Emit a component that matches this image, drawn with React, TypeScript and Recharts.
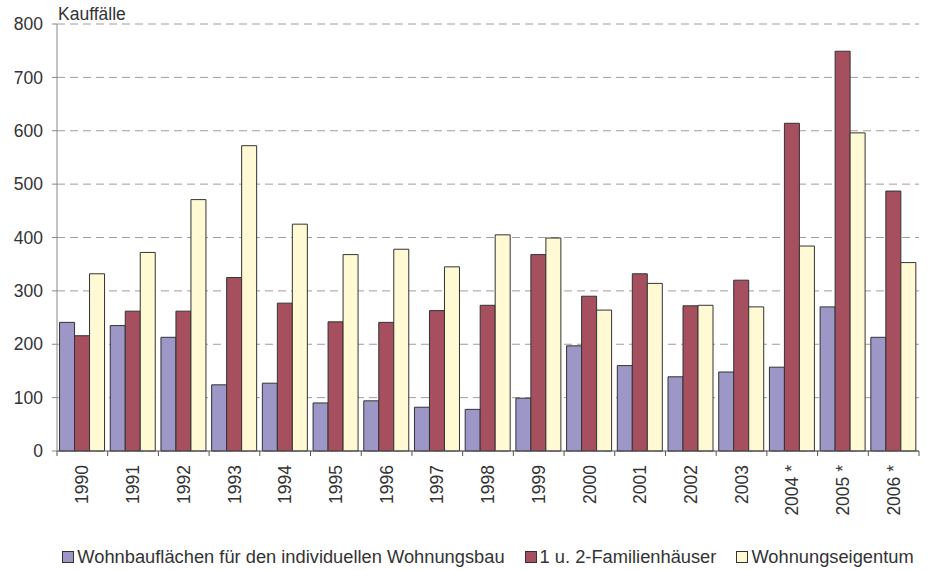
import React from 'react';
import { BarChart, Bar, XAxis, YAxis, CartesianGrid, Legend } from 'recharts';

const years = ['1990', '1991', '1992', '1993', '1994', '1995', '1996', '1997', '1998', '1999', '2000', '2001', '2002', '2003', '2004 *', '2005 *', '2006 *'];
const wohnbauflaechen = [241, 235, 213, 124, 127, 90, 94, 82, 78, 99, 197, 160, 139, 148, 157, 270, 213];
const familienhaeuser = [216, 262, 262, 325, 277, 242, 241, 263, 273, 368, 290, 332, 272, 320, 614, 749, 487];
const wohnungseigentum = [332, 372, 471, 572, 425, 368, 378, 345, 405, 399, 264, 314, 273, 270, 384, 596, 353];
const yTicks = [0, 100, 200, 300, 400, 500, 600, 700, 800];

const series = [
  { key: 'wohnbau', name: 'Wohnbauflächen für den individuellen Wohnungsbau', color: '#9d97c7' },
  { key: 'familie', name: '1 u. 2-Familienhäuser', color: '#a6505f' },
  { key: 'eigentum', name: 'Wohnungseigentum', color: '#fffad4' },
];

const data = years.map((year, i) => ({
  year,
  wohnbau: wohnbauflaechen[i],
  familie: familienhaeuser[i],
  eigentum: wohnungseigentum[i],
}));

const FONT = '"Liberation Sans", Arial, sans-serif';
const WIDTH = 928;
const HEIGHT = 570;
const MARGIN = { top: 24, right: 9, left: 0, bottom: 0 };
const Y_AXIS_WIDTH = 57;
const bandWidth = (WIDTH - MARGIN.left - MARGIN.right - Y_AXIS_WIDTH) / years.length;

const YearTick = (props: any) => {
  const { x, y, payload, index } = props;
  const left = x - bandWidth / 2;
  const right = x + bandWidth / 2;
  return (
    <g>
      <line x1={left} y1={y - 5} x2={left} y2={y} stroke="#555" />
      {index === years.length - 1 && <line x1={right} y1={y - 5} x2={right} y2={y} stroke="#555" />}
      <text
        transform={`translate(${x},${y + 9}) rotate(-90)`}
        textAnchor="end"
        dy="0.35em"
        fill="#333"
        fontSize={17.5}
        fontFamily={FONT}
      >
        {payload.value}
      </text>
    </g>
  );
};

const LegendContent = () => (
  <div style={{ display: 'flex', justifyContent: 'center', whiteSpace: 'nowrap', fontFamily: FONT, fontSize: 18.3, color: '#333', lineHeight: '20px' }}>
    {series.map((s) => (
      <div key={s.key} style={{ display: 'flex', alignItems: 'center', margin: '0 10px', whiteSpace: 'nowrap' }}>
        <span style={{ display: 'inline-block', flex: 'none', width: 10, height: 10, background: s.color, border: '1px solid #333', marginRight: 3 }} />
        <span>{s.name}</span>
      </div>
    ))}
  </div>
);

export default function App() {
  return (
    <div style={{ position: 'absolute', left: 0, top: 0, width: WIDTH, height: HEIGHT, background: '#fff' }}>
      <BarChart width={WIDTH} height={HEIGHT} data={data} margin={MARGIN} barCategoryGap="5%" barGap={0}>
        <CartesianGrid vertical={false} stroke="#a8999a" strokeDasharray="8 5" />
        <XAxis
          dataKey="year"
          height={119}
          tickSize={5}
          tickMargin={0}
          tickLine={false}
          tick={<YearTick />}
          interval={0}
          axisLine={{ stroke: '#555' }}
        />
        <YAxis
          width={Y_AXIS_WIDTH}
          domain={[0, 800]}
          ticks={yTicks}
          tickSize={5}
          tickMargin={9}
          tick={{ fill: '#333', fontSize: 17.5, fontFamily: FONT }}
          axisLine={{ stroke: '#888' }}
          tickLine={{ stroke: '#888' }}
          label={{
            content: ({ viewBox }: any) => (
              <text x={viewBox.x + viewBox.width + 1} y={viewBox.y - 4} fill="#333" fontSize={17.5} fontFamily={FONT}>
                Kauffälle
              </text>
            ),
          }}
        />
        <Legend
          layout="horizontal"
          verticalAlign="middle"
          align="center"
          content={<LegendContent />}
          wrapperStyle={{ position: 'absolute', left: 38, top: 547, width: 900 }}
        />
        {series.map((s) => (
          <Bar key={s.key} dataKey={s.key} name={s.name} fill={s.color} stroke="#333" strokeWidth={1} isAnimationActive={false} />
        ))}
      </BarChart>
    </div>
  );
}
